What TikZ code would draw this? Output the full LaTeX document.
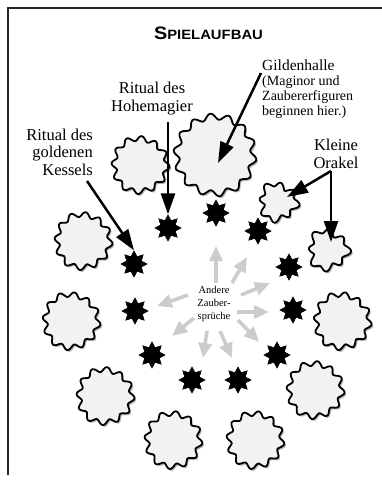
\documentclass[tikz,border=0pt]{standalone}
\usepackage{fontspec}
\setmainfont{Liberation Serif}
\newfontfamily\titlefont[FakeStretch=1.1]{Liberation Sans}
\usetikzlibrary{shapes.geometric,arrows.meta,calc}
\begin{document}
\begin{tikzpicture}[x=1pt,y=-1pt,
  cloudfill/.style={fill=black!5, draw=black, line width=1.8pt, line join=round},
  cloudshadow/.style={fill=black!30},
  starnode/.style={star, star points=8, star point ratio=1.65, fill=black, draw=black, line width=0.6pt, minimum size=26pt, inner sep=0pt},
  lbl/.style={inner sep=0pt},
  blk/.style={line width=2.5pt, -{Triangle[length=21pt,width=14pt]}},
  gry/.style={draw=black!20, line width=3.6pt, -{Triangle[length=15pt,width=13pt]}},
  frameline/.style={draw=black!85, line width=1.8pt}
]
\useasboundingbox (0,0) rectangle (382,483);
% frame
\draw[frameline] (8,475) -- (8,8) -- (382,8);
% title
\node[anchor=base, inner sep=0pt] (title) at (208.5,39)
  {\titlefont\bfseries\fontsize{18}{18}\selectfont S\fontsize{13.5}{13.5}\selectfont PIELAUFBAU};
% clouds: wavy outlines
\foreach \cx/\cy/\R/\a/\n/\p/\b in {
  215/155/38.5/3.0/14/0/0,
  278/202/17.5/2.6/8/20/1.8,
  328/250/18.5/2.6/8/60/2,
  342/321/26.5/2.5/12/10/0.8,
  315/390/26.5/2.5/12/30/0.6,
  255/440/26.5/2.5/12/0/0.5,
  173/440/26.5/2.5/12/15/0.5,
  105/396/26.5/2.5/12/40/0.6,
  71/321/26.5/2.5/12/5/0.7,
  83/241/26.5/2.5/12/25/0.6,
  140/165/26.5/2.5/12/50/0.6} {
  \fill[cloudshadow, shift={(1.6,1.8)}] plot[domain=0:360, samples=361, variable=\t]
    ({\cx+(\R+\a*sin(\n*\t+\p)+\b*cos(3*\t))*cos(\t)},{\cy+(\R+\a*sin(\n*\t+\p)+\b*cos(3*\t))*sin(\t)}) -- cycle;
  \draw[cloudfill] plot[domain=0:360, samples=361, variable=\t]
    ({\cx+(\R+\a*sin(\n*\t+\p)+\b*cos(3*\t))*cos(\t)},{\cy+(\R+\a*sin(\n*\t+\p)+\b*cos(3*\t))*sin(\t)}) -- cycle;
}
\coordinate (cbig) at (215,155);
\coordinate (cor1) at (278,202);
\coordinate (cor2) at (328,250);
% stars
\node[starnode] (s0) at (216,213) {};
\node[starnode] (s1) at (258,231) {};
\node[starnode] (s2) at (289,267) {};
\node[starnode] (s3) at (293,310) {};
\node[starnode] (s4) at (277,355) {};
\node[starnode] (s5) at (238,380) {};
\node[starnode] (s6) at (192,380) {};
\node[starnode] (s7) at (152,355) {};
\node[starnode] (s8) at (135,311) {};
\node[starnode] (s9) at (134,264) {};
\node[starnode] (s10) at (168,228) {};
% centre text and grey arrows
\node[align=center, font=\fontsize{10.5}{13}\selectfont, inner sep=1pt] (other) at (214,304) {Andere\\Zauber-\\sprüche};
\draw[gry] ($(other)+(2,-21)$) -- ($(other)+(2,-58)$);
\draw[gry] ($(other)+(18,-21)$) -- ($(other)+(33,-47)$);
\draw[gry] ($(other)+(27,-9)$) -- ($(other)+(56,-21)$);
\draw[gry] ($(other)+(23,8)$) -- ($(other)+(55,8)$);
\draw[gry] ($(other)+(24,16)$) -- ($(other)+(45,38)$);
\draw[gry] ($(other)+(6,27)$) -- ($(other)+(18,54)$);
\draw[gry] ($(other)+(-7,27)$) -- ($(other)+(-11,54)$);
\draw[gry] ($(other)+(-20,14)$) -- ($(other)+(-42,32)$);
\draw[gry] ($(other)+(-26,-9)$) -- ($(other)+(-57,2)$);
% labels (base anchor = baseline of the last line)
\node[lbl, anchor=base west, font=\fontsize{15.5}{17}\selectfont] (gild) at (262,70) {Gildenhalle};
\node[lbl, anchor=base west, align=left, font=\fontsize{14}{15}\selectfont] (gildsub) at (262,115)
  {(Maginor und\\Zaubererfiguren\\beginnen hier.)};
\node[lbl, anchor=base, align=center, font=\fontsize{16.5}{18}\selectfont] (hoh) at (152,111) {Ritual des\\Hohemagier};
\node[lbl, anchor=base east, align=right, font=\fontsize{16.5}{17.5}\selectfont] (kes) at (93,175) {Ritual des\\goldenen\\Kessels};
\node[lbl, anchor=base, align=center, font=\fontsize{16.5}{18}\selectfont] (ork) at (336,168) {Kleine\\Orakel};
% black arrows
\coordinate (gA) at (261,73);
\coordinate (gB) at ($(cbig)+(3,8)$);
\draw[blk] (gA) -- (gB);
\coordinate (hA) at (168,122);
\draw[blk] (hA) -- (s10.north);
\coordinate (kA) at (87,181);
\draw[blk] (kA) -- (s9.north);
\coordinate (oA) at (331,171);
\coordinate (oB) at ($(cor1)+(9,-5)$);
\coordinate (oC) at ($(cor2)+(3,-8)$);
\draw[blk] (oA) -- (oB);
\draw[blk] (oA) -- (oC);
\end{tikzpicture}
\end{document}
